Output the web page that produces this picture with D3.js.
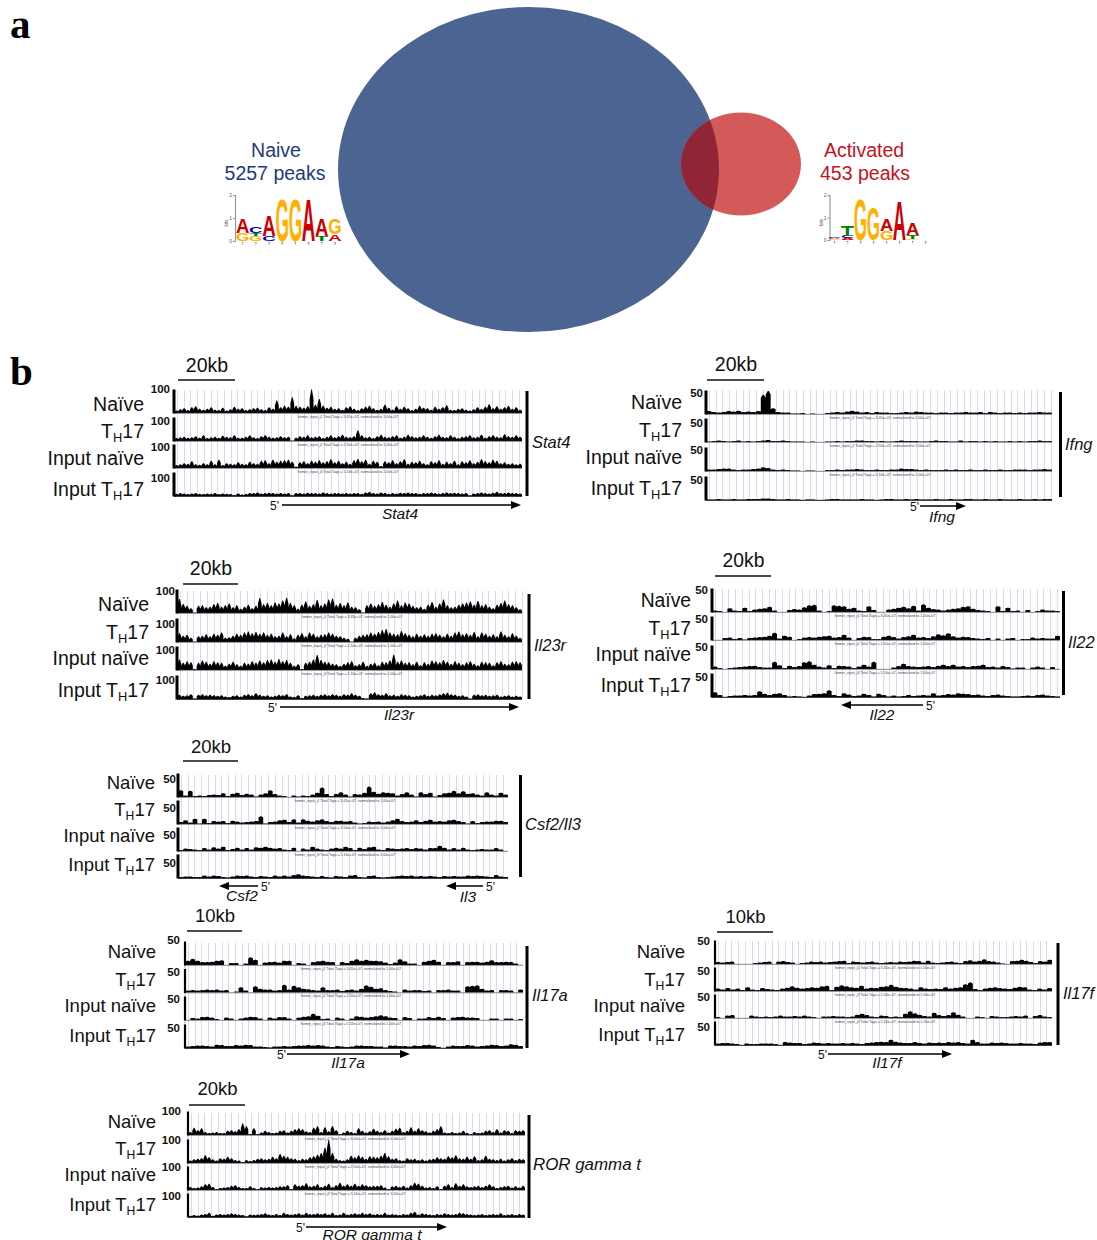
<!DOCTYPE html>
<html><head><meta charset="utf-8">
<script src="https://cdn.jsdelivr.net/npm/d3@7/dist/d3.min.js"></script>
<style>html,body{margin:0;padding:0;background:#fff}svg{display:block;font-family:"Liberation Sans",Arial,sans-serif}</style>
</head><body><svg id="c" width="1097" height="1240" viewBox="0 0 1097 1240"></svg>
<script>
// ---------- DATA ----------
const trackNames = ["Naïve","TH17","Input naïve","Input TH17"];
const peakCounts = {naive:5257, activated:453};
// sequence logos, bits per letter, bottom to top
const logoNaive = [[["G",.35],["A",.65]],[["G",.2],["T",.13],["C",.3]],[["C",.22],["A",.95]],[["G",1.9]],[["G",1.9]],[["A",1.9]],[["T",.2],["A",.75]],[["A",.3],["G",.7]]];
const logoActivated = [[["G",.06],["A",.05],["C",.07]],[["A",.1],["C",.1],["T",.45]],[["G",1.85]],[["G",1.5]],[["G",.4],["A",.55]],[["A",1.8]],[["G",.06],["T",.16],["A",.55]],[["A",.02]]];
// Stat4 (scale 100)
const stat4Naive=[10,16,20,12,24,28,18,14,18,24,14,12,22,10,16,26,18,20,12,16,20,22,16,12,24,18,52,24,30,26,66,30,26,22,28,98,34,58,30,22,26,18,20,14,24,28,18,12,20,26,30,20,14,18,34,22,14,28,18,26,20,12,18,30,22,20,14,26,18,24,32,14,12,18,20,14,10,16,24,18,26,36,20,28,18,24,30,18,24,14];
const stat4Th17=[12,16,18,14,16,20,14,24,12,16,18,14,22,18,16,24,14,14,18,24,16,12,20,24,18,14,16,20,16,18,2,14,20,18,24,16,18,20,12,18,24,16,20,26,18,16,20,44,24,16,18,12,20,26,18,16,20,24,14,18,26,20,16,18,24,18,14,20,26,18,16,24,18,12,18,20,24,16,18,26,14,20,24,18,16,28,20,18,24,18];
const stat4InputNaive=[12,16,20,18,28,16,14,20,16,30,16,34,12,20,18,16,24,18,16,26,20,18,30,32,20,34,26,30,32,34,26,6,24,28,20,30,26,32,24,28,36,24,30,20,26,18,32,38,28,34,18,30,26,8,28,24,32,20,28,36,18,26,24,30,20,16,28,24,32,18,26,20,30,16,28,24,32,20,26,36,28,24,34,30,20,24,18,20,16,18];
const stat4InputTh17=[9,13,10,8,10,12,9,8,10,9,12,8,10,9,8,4,10,6,8,13,12,15,10,12,14,13,10,12,10,13,3,12,13,10,14,12,13,10,15,12,10,13,12,10,12,10,13,12,9,15,18,13,10,15,13,9,12,10,14,12,15,13,12,9,13,12,15,12,10,13,15,12,14,13,10,12,3,10,13,15,12,10,14,18,13,12,15,13,12,10];
// Ifng (scale 50)
const ifngNaive=[6,4,3,4,6,5,7,4,5,4,6,40,48,12,4,3,3,1,1,2,0,1,0,0,2,3,4,3,5,7,5,3,4,2,4,3,3,2,2,3,4,3,5,4,3,3,2,3,3,2,3,3,4,3,3,4,2,4,3,2,3,3,2,3,2,3,3,4,3,3];
const ifngTh17=[1,2,3,2,1,2,3,1,2,1,2,3,4,2,2,3,2,1,1,1,0,1,0,0,1,1,2,1,2,2,3,3,2,2,1,2,1,1,2,3,2,2,2,1,1,2,3,2,2,1,1,3,1,2,2,1,2,1,2,1,1,2,1,2,1,2,2,3,2,2];
const ifngInputNaive=[3,3,4,5,5,3,2,3,3,4,5,8,6,3,2,3,2,1,1,0,1,1,0,0,2,2,3,2,3,3,4,3,2,2,3,2,2,3,3,5,4,4,3,2,3,2,2,2,3,2,3,2,2,3,2,2,3,2,2,3,2,2,3,3,3,2,3,3,4,3];
const ifngInputTh17=[1,1,2,1,1,2,1,1,2,2,2,3,3,2,1,1,2,1,1,0,1,1,0,0,1,2,2,1,1,1,1,2,1,1,0,1,2,2,1,1,2,1,2,1,1,1,2,1,1,2,1,1,2,2,1,1,2,1,1,2,1,1,1,2,1,1,2,1,2,2];
// Il23r (scale 100)
const il23rNaive=[58,38,30,20,2,30,32,24,26,36,42,26,32,40,24,32,18,26,34,20,30,62,36,42,32,44,40,52,64,42,32,18,34,48,30,36,54,32,40,56,60,34,42,32,44,26,24,16,2,32,40,30,36,46,34,26,40,52,32,44,40,30,24,26,18,34,46,26,40,56,32,24,26,34,40,44,48,34,50,32,36,26,20,34,42,52,36,32,24,16];
const il23rTh17=[36,26,30,18,2,24,26,32,24,34,30,40,18,20,26,34,30,40,44,36,42,34,40,30,34,24,26,40,24,32,16,30,36,24,40,34,24,30,32,40,34,26,24,18,14,2,18,26,30,32,40,34,42,50,54,40,34,32,46,36,30,24,34,26,32,26,34,36,30,24,34,26,40,44,32,36,30,42,24,40,34,26,32,24,44,30,24,36,26,18];
const il23rInputNaive=[44,30,36,32,4,30,40,34,26,36,32,30,18,26,34,24,18,30,26,36,30,40,32,42,44,34,46,36,42,30,18,24,4,30,34,44,62,42,34,32,26,24,18,26,32,36,20,24,34,18,26,30,20,34,32,40,64,34,40,30,32,24,34,20,32,26,40,36,32,42,34,26,36,30,24,32,36,26,20,34,32,30,20,32,36,26,24,34,36,32];
const il23rInputTh17=[18,14,16,20,2,18,20,16,18,16,14,16,10,8,14,16,10,18,20,16,24,18,14,16,10,14,18,16,20,10,8,16,4,14,16,18,14,18,20,16,20,18,14,20,18,24,18,14,4,2,24,28,20,18,24,16,18,14,20,18,16,10,14,16,20,14,18,16,20,24,26,20,18,14,16,10,2,18,20,16,18,14,16,18,10,14,16,10,14,10];
// Il22 (scale 50)
const il22Naive=[3,2,0,8,3,2,9,2,5,7,8,11,3,0,0,4,6,5,10,14,15,3,0,2,14,13,12,7,9,3,2,12,4,0,0,5,7,9,11,8,13,3,16,9,6,5,3,5,7,8,11,12,7,4,3,2,0,12,2,9,2,3,0,4,0,2,5,3,3,2];
const il22Th17=[0,0,4,5,2,4,1,4,5,6,7,9,15,3,9,7,0,2,5,6,5,7,8,9,5,6,11,5,0,4,7,6,2,2,7,9,6,3,6,8,11,5,6,4,8,12,10,14,8,5,7,6,4,3,2,4,0,3,0,3,4,0,2,2,5,3,4,3,3,9];
const il22InputNaive=[5,2,0,2,3,4,5,6,7,4,3,3,15,8,2,7,4,6,14,16,9,5,3,8,2,7,6,5,2,5,9,5,15,0,0,0,3,6,11,6,5,4,5,6,4,7,9,6,9,5,6,4,6,7,9,4,5,3,6,4,1,3,3,0,3,5,3,0,4,0];
const il22InputTh17=[10,4,0,2,3,3,4,3,4,12,7,4,7,8,4,1,2,1,0,3,6,7,8,14,4,2,8,5,2,3,7,4,1,7,4,1,3,1,2,4,2,3,4,3,8,3,4,6,5,8,7,6,4,5,3,2,4,5,3,2,1,1,2,3,2,4,5,3,2,1];
// Csf2/Il3 (scale 50)
const csfNaive=[14,3,13,2,3,2,4,5,4,8,2,7,9,4,7,5,1,5,8,14,6,3,2,0,3,1,3,2,5,9,20,6,2,6,10,5,1,6,5,9,22,11,7,10,9,8,3,6,10,5,1,10,6,9,1,4,8,9,13,8,12,7,8,5,3,10,5,3,9,5];
const csfTh17=[4,8,3,11,1,11,2,6,5,6,2,7,5,3,4,5,6,16,1,4,5,8,9,4,10,3,10,7,5,8,10,6,4,7,7,5,6,3,1,2,5,4,5,3,5,8,11,6,4,5,8,4,7,9,5,6,5,8,9,6,4,1,6,2,4,5,5,7,7,4];
const csfInputNaive=[2,5,4,3,2,6,3,8,5,9,2,4,7,3,6,3,8,7,9,7,5,6,3,2,7,0,5,3,9,5,3,2,5,7,5,9,6,2,7,4,8,9,3,2,6,5,4,5,6,4,6,5,3,6,6,11,7,3,6,3,7,3,2,3,4,3,3,6,3,0];
const csfInputTh17=[2,3,3,2,2,5,3,5,4,2,1,3,5,4,5,3,2,4,3,2,5,3,5,3,6,8,5,4,3,2,4,2,1,4,3,2,5,6,2,1,4,5,2,1,2,3,4,5,4,5,3,4,3,4,3,2,4,3,4,3,3,5,4,5,4,3,2,6,3,2];
// Il17a (scale 50)
const il17aNaive=[9,13,9,6,6,7,9,10,0,4,4,0,3,16,11,0,5,6,7,5,9,9,0,4,3,0,6,8,9,7,6,0,6,4,9,12,9,11,9,9,8,5,2,5,12,8,3,3,0,7,9,11,7,0,6,6,8,0,6,7,7,5,7,10,6,6,7,6,3,0];
const il17aTh17=[4,5,4,5,6,5,6,4,5,0,2,11,4,0,13,8,6,6,4,5,16,6,14,11,8,7,5,4,11,5,5,6,3,5,6,4,8,15,12,8,9,5,3,2,0,6,4,5,5,3,4,0,5,5,6,4,4,0,13,14,15,8,4,5,0,5,5,4,0,6];
const il17aInputNaive=[0,4,3,6,7,5,2,0,5,3,0,3,5,7,6,3,0,5,3,6,6,3,0,5,7,8,13,9,2,3,0,5,3,0,3,8,7,5,6,8,10,8,5,4,0,6,4,0,3,3,6,4,7,4,0,5,6,7,5,5,4,0,0,3,3,0,3,3,0,2];
const il17aInputTh17=[3,4,5,5,4,3,7,6,4,4,6,5,7,6,3,3,2,1,3,3,4,3,4,5,5,6,5,6,5,3,2,4,3,2,3,5,5,4,4,3,3,1,5,5,4,4,3,5,4,6,7,5,2,0,3,5,4,4,6,5,3,4,5,7,6,4,5,8,7,4];
// Il17f (scale 50)
const il17fNaive=[4,3,4,5,0,0,0,0,2,3,4,5,0,5,6,4,3,0,2,3,5,4,5,3,4,5,6,7,2,5,4,3,4,5,3,2,3,4,3,5,4,5,7,6,3,7,3,2,3,4,5,3,2,6,8,5,7,10,6,5,3,1,0,6,7,9,7,4,2,6,5,9];
const il17fTh17=[5,3,6,3,5,2,8,3,2,6,4,3,2,5,7,10,7,5,6,8,7,10,11,2,9,12,10,8,7,11,5,7,6,9,10,13,9,7,6,5,3,8,5,4,5,4,8,5,7,8,14,18,4,2,5,7,8,6,5,4,7,9,8,3,2,5,3,6];
const il17fInputNaive=[2,0,5,6,0,0,0,5,3,2,3,2,3,5,3,3,4,3,5,3,2,0,3,3,4,3,3,2,3,7,9,6,3,2,5,4,2,3,2,9,14,10,7,4,3,11,6,4,6,12,7,3,0,0,3,2,0,4,3,2,2,3,4,3,5,0,4,6,3,2];
const il17fInputTh17=[3,4,4,3,2,0,3,2,2,3,3,3,2,0,6,5,4,4,2,3,5,4,3,4,3,3,4,3,4,3,2,4,5,6,7,6,11,7,5,4,4,6,4,3,5,4,5,4,6,5,6,4,3,11,6,3,3,5,4,5,4,3,3,4,3,3,2,5,6,6];
// ROR gamma t (scale 100)
const rorNaive=[12,30,20,28,12,8,10,12,8,8,18,20,16,24,48,36,4,28,4,10,18,12,8,10,18,20,10,18,24,28,24,16,12,30,36,12,32,16,38,20,4,10,18,12,8,28,18,10,16,26,18,12,20,10,18,26,30,12,18,32,18,28,20,16,10,18,24,36,10,8,12,8,10,18,8,4,12,8,10,18,20,12,24,10,20,18,8,20,18,20];
const rorTh17=[10,16,18,20,32,24,16,10,20,18,26,20,12,10,4,12,8,12,18,20,16,18,26,20,38,30,26,20,18,12,18,16,24,28,34,42,64,96,42,18,12,10,16,30,24,32,26,18,28,26,24,30,42,28,18,20,12,10,20,16,18,12,16,10,16,18,24,20,18,28,24,32,20,18,26,18,28,12,16,30,18,16,12,18,10,16,20,12,18,16];
const rorInputNaive=[12,8,10,16,24,26,12,4,8,10,12,18,20,12,8,8,16,8,4,12,10,12,10,12,16,16,20,4,24,18,20,28,16,18,24,12,18,26,12,20,30,18,24,18,26,18,24,20,16,18,18,20,10,4,16,18,12,18,10,20,30,26,18,10,12,8,16,4,18,24,12,28,18,24,16,12,16,18,12,18,24,16,8,12,16,18,10,16,10,18];
const rorInputTh17=[5,8,6,10,12,18,5,10,12,10,12,16,12,10,8,3,10,9,10,12,16,10,8,12,8,18,12,10,12,16,10,18,12,12,16,12,16,10,18,8,10,18,10,12,16,12,18,12,16,10,12,10,18,10,12,10,8,12,10,18,22,10,16,12,10,8,12,10,16,12,10,12,18,16,12,10,8,10,12,8,10,12,10,16,8,10,12,8,12,10];

// ---------- TABLES ----------
const panels = [
 {gene:"Stat4",max:100,spiky:true,fs:19.5,x0:174,x1:522,base:[413,441,468,496],top:390,tickY:[389,421,447,478],tickR:170,labelR:144,labelY:[404,431,458,489],scale:{t:"20kb",a:178,b:235,y:380,ty:365},bar:{x:527,a:391,b:496},side:{x:532,y:442},arrows:[{from:282,to:521,y:505,p5:270,name:"Stat4",nx:400,ny:513}],values:[stat4Naive,stat4Th17,stat4InputNaive,stat4InputTh17],note:348},
 {gene:"Ifng",max:50,spiky:false,fs:19.5,x0:706,x1:1052,base:[414,442,471,500],top:390,tickY:[393,423,450,480],tickR:703,labelR:682,labelY:[402,430,457,488],scale:{t:"20kb",a:707,b:764,y:380,ty:364},bar:{x:1060.5,a:392,b:497},side:{x:1065,y:444},arrows:[{from:920,to:966,y:506,p5:910,name:"Ifng",nx:942,ny:516}],values:[ifngNaive,ifngTh17,ifngInputNaive,ifngInputTh17],note:880},
 {gene:"Il23r",max:100,spiky:true,fs:19.5,x0:177,x1:522,base:[613,642,670,699],top:591,tickY:[591,624,650,680],tickR:175,labelR:149,labelY:[604,632,658,690],scale:{t:"20kb",a:183,b:238,y:584,ty:568},bar:{x:529,a:594,b:699},side:{x:534,y:645},arrows:[{from:280,to:519,y:707,p5:268,name:"Il23r",nx:399,ny:714}],values:[il23rNaive,il23rTh17,il23rInputNaive,il23rInputTh17],note:352},
 {gene:"Il22",max:50,spiky:false,fs:19.3,x0:712,x1:1060,base:[612,640,669,697],top:589,tickY:[590,619,647,677],tickR:708,labelR:691,labelY:[600,628,654,685],scale:{t:"20kb",a:715,b:771,y:576,ty:560},bar:{x:1063.5,a:591,b:695},side:{x:1068,y:642},arrows:[{from:923,to:841,y:705,p5:926,name:"Il22",nx:882,ny:714}],values:[il22Naive,il22Th17,il22InputNaive,il22InputTh17],note:885},
 {gene:"Csf2/Il3",max:50,spiky:false,fs:18.5,x0:178,x1:508,base:[797,824,851,878],top:775,tickY:[779,808,835,863],tickR:176,labelR:155,labelY:[782,809,835,864],scale:{t:"20kb",a:183,b:238,y:761,ty:746},bar:{x:520.5,a:775,b:877},side:{x:525,y:824},arrows:[{from:258,to:219,y:886,p5:261,name:"Csf2",nx:242,ny:895},{from:483,to:446,y:886,p5:486,name:"Il3",nx:468,ny:896}],values:[csfNaive,csfTh17,csfInputNaive,csfInputTh17],note:345},
 {gene:"Il17a",max:50,spiky:false,pink:true,fs:18.5,x0:185,x1:523,base:[965,992.5,1020,1048],top:943,tickY:[940,972,999,1028],tickR:180,labelR:156,labelY:[951,979,1005,1035],scale:{t:"10kb",a:187,b:242,y:931,ty:915},bar:{x:527,a:946,b:1048},side:{x:532,y:995},arrows:[{from:287,to:410,y:1054,p5:277,name:"Il17a",nx:348,ny:1062}],values:[il17aNaive,il17aTh17,il17aInputNaive,il17aInputTh17],note:351},
 {gene:"Il17f",max:50,spiky:false,pink:true,fs:18.5,x0:715,x1:1052,base:[964,991,1018,1045],top:941,tickY:[941,971,997,1027],tickR:710,labelR:685,labelY:[951,979,1005,1034],scale:{t:"10kb",a:717,b:773,y:932,ty:916},bar:{x:1058,a:943,b:1045},side:{x:1063,y:993},arrows:[{from:828,to:952,y:1054,p5:818,name:"Il17f",nx:887,ny:1062}],values:[il17fNaive,il17fTh17,il17fInputNaive,il17fInputTh17],note:885},
 {gene:"ROR gamma t",max:100,spiky:true,pink:true,fs:18.5,x0:188,x1:525,base:[1135,1163,1190,1217],top:1113,tickY:[1111,1140,1167,1196],tickR:181,labelR:156,labelY:[1121,1148,1174,1204],scale:{t:"20kb",a:189,b:245,y:1105,ty:1088},bar:{x:529,a:1115,b:1218},side:{x:533,y:1164,size:16.9},arrows:[{from:306,to:447,y:1227,p5:296,name:"ROR gamma t",nx:372,ny:1234}],values:[rorNaive,rorTh17,rorInputNaive,rorInputTh17],note:355}
];

// ---------- DRAW ----------
const svg = d3.select("#c");
const txt=(g,x,y,s,o={})=>g.append("text").attr("x",x).attr("y",y).attr("dy",o.dy??".36em").attr("text-anchor",o.anchor||"start").attr("font-size",o.size||19.5).attr("fill",o.fill||"#111").attr("font-style",o.italic?"italic":null).attr("font-weight",o.bold?"bold":null).attr("font-family",o.family||null).text(s);

// panel letters
txt(svg,10,38,"a",{dy:0,size:41,bold:true,family:"'Liberation Serif',serif",fill:"#000"});
txt(svg,10,385,"b",{dy:0,size:41,bold:true,family:"'Liberation Serif',serif",fill:"#000"});

// Venn
const big={cx:528.5,cy:169.5,rx:190.5,ry:162.5}, small={cx:741,cy:164,rx:60,ry:51.5};
svg.append("defs").append("clipPath").attr("id","bigClip").append("ellipse").attr("cx",big.cx).attr("cy",big.cy).attr("rx",big.rx).attr("ry",big.ry);
const ell=(e,f,clip)=>svg.append("ellipse").attr("cx",e.cx).attr("cy",e.cy).attr("rx",e.rx).attr("ry",e.ry).attr("fill",f).attr("clip-path",clip||null);
ell(big,"#4c6491");ell(small,"#d45a5a");ell(small,"#902538","url(#bigClip)");
txt(svg,276,150,"Naive",{anchor:"middle",fill:"#1f3a78"});
txt(svg,275,173,peakCounts.naive+" peaks",{anchor:"middle",fill:"#1f3a78"});
txt(svg,864,150,"Activated",{anchor:"middle",fill:"#c5121f"});
txt(svg,865,173,peakCounts.activated+" peaks",{anchor:"middle",fill:"#c5121f"});

// logos
const letterColor={A:"#cc0000",C:"#0000cc",G:"#ffb000",T:"#008000"}, letterEm={A:.722,C:.722,G:.778,T:.611};
function logo(data,ax,x0,step,yTop,yBot){
  const g=svg.append("g");
  const y=d3.scaleLinear().domain([0,2]).range([yBot,yTop]);
  const x=d3.scaleBand().domain(d3.range(1,data.length+1)).range([x0,x0+step*data.length]);
  const ya=g.append("g").attr("transform",`translate(${ax},0)`).call(d3.axisLeft(y).tickValues([0,1,2]).tickSize(2).tickPadding(1).tickFormat(d3.format("d")));
  ya.selectAll("path,line").attr("stroke","#999").attr("stroke-width",1.2);
  ya.selectAll("text").attr("font-size",5).attr("fill","#555").attr("font-family",null);
  g.append("text").attr("transform",`translate(${ax-7},${(yTop+yBot)/2+5}) rotate(-90)`).attr("font-size",4.5).attr("fill","#555").attr("text-anchor","middle").text("bits");
  const xa=g.append("g").attr("transform",`translate(0,${yBot+1})`).call(d3.axisBottom(x).tickSize(1).tickPadding(0));
  xa.select("path").remove();xa.selectAll("line").attr("stroke","#777");
  xa.selectAll("text").attr("font-size",3).attr("fill","#555").attr("font-family",null);
  data.forEach((col,i)=>{let acc=0;col.forEach(([l,h])=>{
    const yb=y(acc),hp=y(0)-y(h),w=step*1.02;acc+=h;
    g.append("text").attr("transform",`translate(${x(i+1)+x.bandwidth()/2},${yb}) scale(${w/(letterEm[l]*10)},${hp/7.29})`).attr("font-size",10).attr("font-weight","bold").attr("text-anchor","middle").attr("fill",letterColor[l]).text(l);
  });});
}
logo(logoNaive,235,236,13.2,195,241);
logo(logoActivated,829.5,828,13,195,240);

// tracks
const stripeStep=6.7;
panels.forEach(p=>{
  const g=svg.append("g");
  const bottom=p.base[3];
  d3.range(p.x0+3,p.x1,stripeStep).forEach(v=>{const x=Math.round(v)+.5;g.append("line").attr("x1",x).attr("x2",x).attr("y1",p.top).attr("y2",bottom).attr("stroke","#d8d8fc").attr("stroke-width",1);});
  if(p.pink) g.append("line").attr("x1",p.x0-.2).attr("x2",p.x0-.2).attr("y1",p.top).attr("y2",bottom).attr("stroke","#f2a79f").attr("stroke-width",1);
  p.values.forEach((vals,i)=>{
    const b=p.base[i], h=24;
    const x=d3.scaleBand().domain(d3.range(vals.length)).range([p.x0+.5,p.x1]);
    const y=d3.scaleLinear().domain([0,p.max]).range([b,b-h]);
    const w=x.bandwidth()/2, sh=p.spiky?.6:.85;
    const pts=vals.flatMap((v,k)=>{const c=x(k)+w;return v===0?[[c-w,b],[c+w,b]]:[[c-w,b],[c-w,y(v*sh)],[c-w*.2,y(v)],[c+w*.2,y(v)],[c+w,y(v*sh)],[c+w,b]];});
    g.append("path").attr("fill","#000").attr("d",d3.line()(pts)+"Z");
    g.append("line").attr("x1",p.x0).attr("x2",p.x1).attr("y1",b+.3).attr("y2",b+.3).attr("stroke",i===3?"#111":"#666").attr("stroke-width",i===3?1:.8);
    const ax=g.append("g").attr("transform",`translate(${p.x0-.5},0)`).call(d3.axisLeft(y).tickValues([]).tickSize(0));
    ax.select("path").attr("stroke","#000").attr("stroke-width",p.pink?2.2:3).attr("fill","none");
    txt(g,p.tickR,p.tickY[i],String(p.max),{anchor:"end",bold:true,size:11.5});
    const name=trackNames[i], t=txt(g,p.labelR,p.labelY[i],"",{anchor:"end",size:p.fs});
    if(name.endsWith("TH17")){
      t.append("tspan").text(name.replace("TH17","T"));
      t.append("tspan").attr("font-size",p.fs*.66).attr("dy",4).text("H");
      t.append("tspan").attr("dy",-4).text("17");
    } else t.text(name);
    if(i<3) txt(g,p.note,b+3.5,`homer_input_j${i+1} Total Tags = ${["3.45e+07","2.50e+07","5.16e+07"][i]}, normalized to 1.00e+07`,{anchor:"middle",size:3.6,fill:"#444"});
  });
  g.append("line").attr("x1",p.scale.a).attr("x2",p.scale.b).attr("y1",p.scale.y).attr("y2",p.scale.y).attr("stroke","#111").attr("stroke-width",1.5);
  txt(g,(p.scale.a+p.scale.b)/2+.5,p.scale.ty,p.scale.t,{anchor:"middle",size:p.fs});
  g.append("line").attr("x1",p.bar.x).attr("x2",p.bar.x).attr("y1",p.bar.a).attr("y2",p.bar.b).attr("stroke","#000").attr("stroke-width",3);
  txt(g,p.side.x,p.side.y,p.gene,{italic:true,size:p.side.size||16.5});
  p.arrows.forEach(a=>{
    const d=Math.sign(a.to-a.from), tipBase=a.to-d*10;
    g.append("line").attr("x1",a.from).attr("x2",tipBase).attr("y1",a.y).attr("y2",a.y).attr("stroke","#000").attr("stroke-width",1.5);
    g.append("path").attr("d",d3.line()([[a.to,a.y],[tipBase,a.y-4],[tipBase,a.y+4]])+"Z").attr("fill","#000");
    txt(g,a.p5,a.y+1,"5'",{size:12});
    txt(g,a.nx,a.ny,a.name,{anchor:"middle",italic:true,size:15.5});
  });
});
</script></body></html>
